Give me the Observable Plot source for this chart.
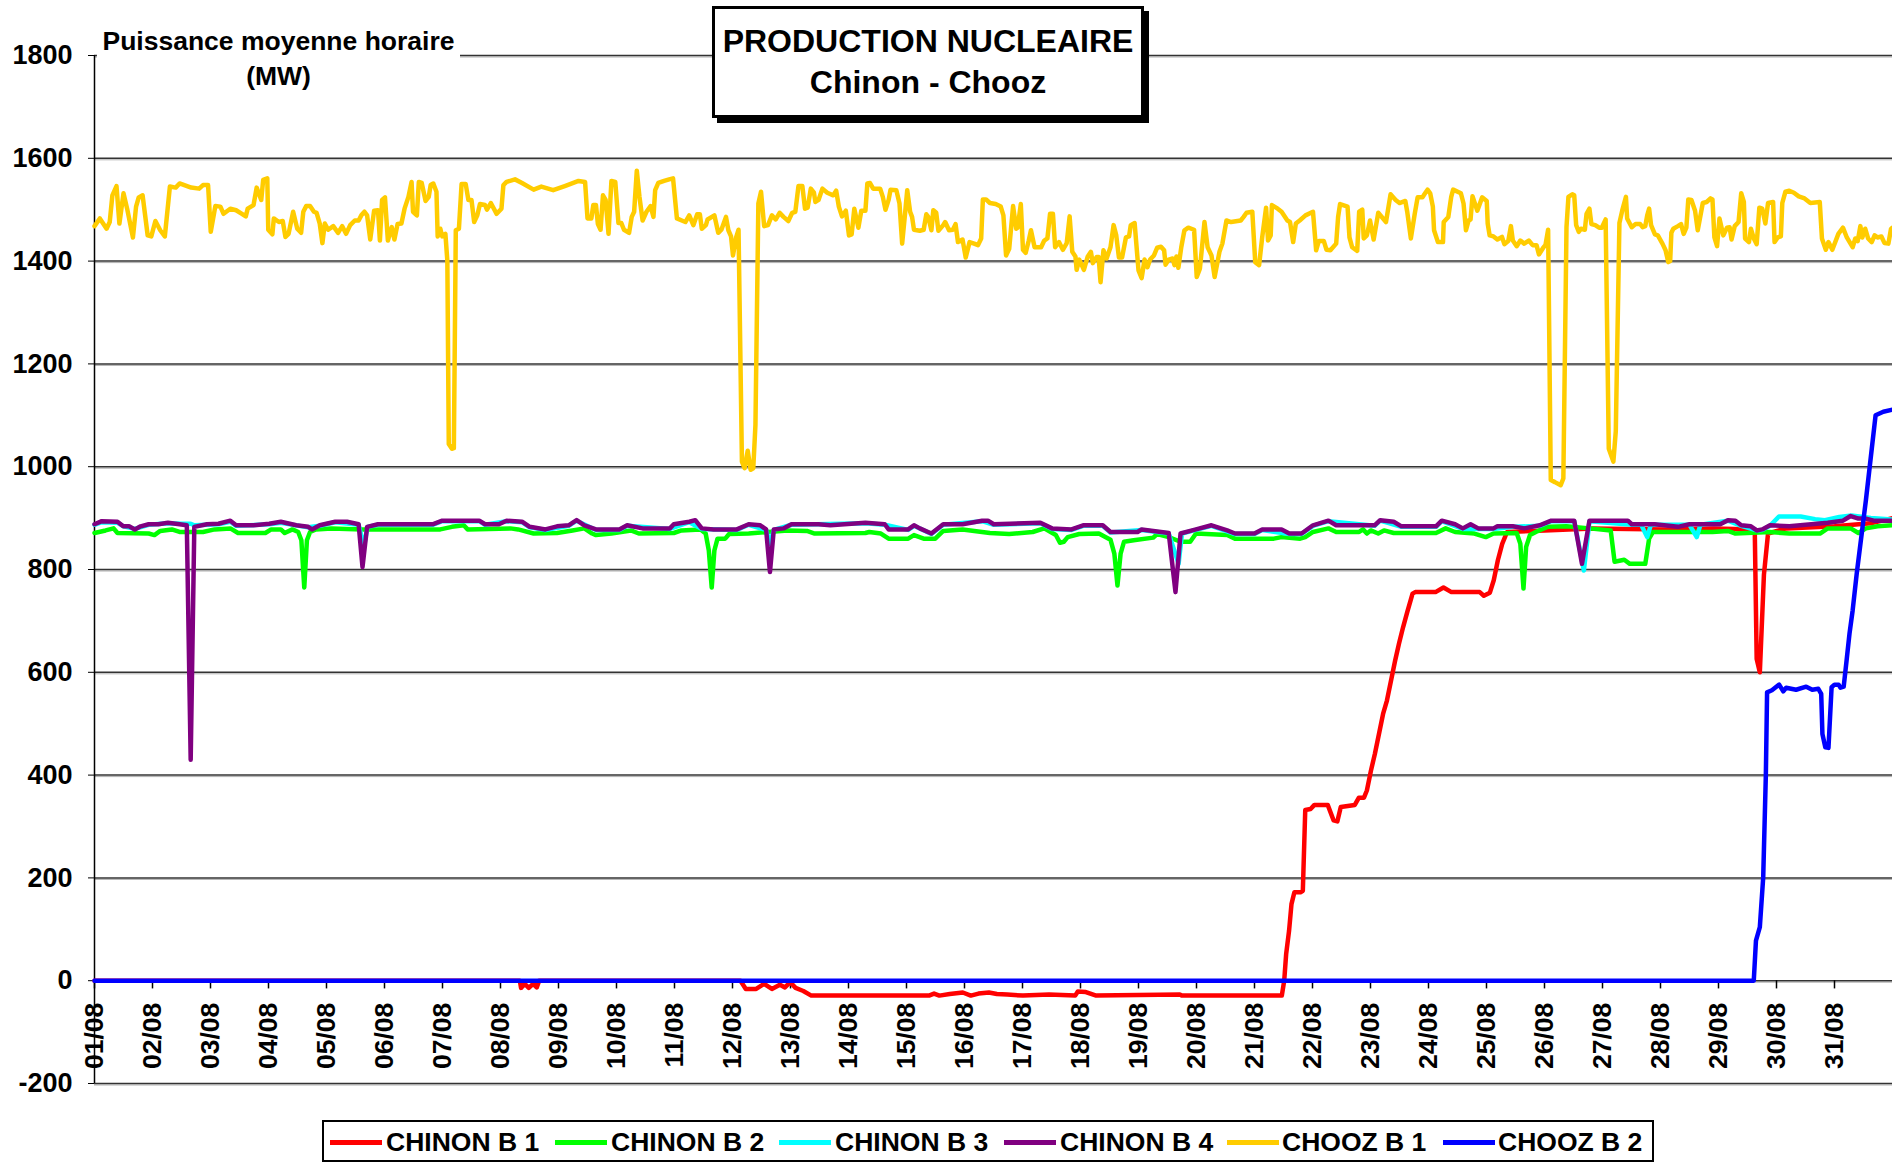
<!DOCTYPE html>
<html>
<head>
<meta charset="utf-8">
<script src="https://cdn.jsdelivr.net/npm/d3@7"></script>
<script src="https://cdn.jsdelivr.net/npm/@observablehq/plot@0.6"></script>
<style>
  html, body { margin: 0; padding: 0; background: #fff; }
  #wrap { position: relative; width: 1892px; height: 1162px; overflow: hidden; font-family: "Liberation Sans", Arial, sans-serif; font-weight: bold; color: #000; }
  #ylabel { position: absolute; left: 97px; top: 18px; width: 363px; height: 80px; background: #fff; text-align: center; font-size: 26.5px; line-height: 35px; padding-top: 6px; box-sizing: border-box; }
  #title { position: absolute; left: 712px; top: 6px; width: 432px; height: 112px; box-sizing: border-box; border: 3px solid #000; background: #fff; box-shadow: 5px 5px 0 #000; text-align: center; font-size: 32px; line-height: 41px; padding-top: 12px; white-space: nowrap; }
  #legend { position: absolute; left: 322px; top: 1120px; width: 1332px; height: 42px; box-sizing: border-box; border: 2px solid #000; background: #fff; }
  .sw { position: absolute; top: 18px; width: 52px; height: 5px; }
  .lt { position: absolute; top: 0; line-height: 40px; font-size: 26.5px; white-space: nowrap; }
</style>
</head>
<body>
<div id="wrap">
  <div id="chart"></div>
  <div id="ylabel">Puissance moyenne horaire<br>(MW)</div>
  <div id="title">PRODUCTION NUCLEAIRE<br>Chinon - Chooz</div>
  <div id="legend"></div>
</div>
<script>
// ---- DATA (hours since 01/08 00:00, MW) ----
const seriesNames = ["CHINON B 1", "CHINON B 2", "CHINON B 3", "CHINON B 4", "CHOOZ B 1", "CHOOZ B 2"];
const seriesColors = ["#FF0000", "#00FF00", "#00FFFF", "#800080", "#FFCC00", "#0000FF"];
const xTickHours = [0,24,48,72,96,120,144,168,192,216,240,264,288,312,336,360,384,408,432,456,480,504,528,552,576,600,624,648,672,696,720];
const xTickLabels = ["01/08","02/08","03/08","04/08","05/08","06/08","07/08","08/08","09/08","10/08","11/08","12/08","13/08","14/08","15/08","16/08","17/08","18/08","19/08","20/08","21/08","22/08","23/08","24/08","25/08","26/08","27/08","28/08","29/08","30/08","31/08"];
const yTicks = [-200,0,200,400,600,800,1000,1200,1400,1600,1800];

const chinonB1 = [[0,0],[176,0],[176.5,-14],[178,-6],[179.7,-14],[181.5,-6],[183,-13],[184,0],[267.3,0],[269.5,-16],[273.8,-16],[277.1,-6],[280.3,-16],[283.6,-8],[285.7,-13],[287.9,-3],[290.1,-14],[293.3,-20],[296.6,-29],[345.3,-29],[347.4,-25],[349.6,-29],[353.9,-26],[359.3,-23],[362.6,-29],[365.8,-25],[370.1,-23],[373.4,-26],[377.7,-27],[384.2,-29],[395,-27],[405.8,-29],[406.9,-21],[410.2,-22],[414.5,-29],[449.1,-27],[450,-29],[491.3,-29],[492.3,0],[493.1,52],[494.3,97],[495.3,149],[496.5,172],[499,172],[500,175],[501,332],[503.2,334],[504.8,342],[510.3,342],[512.7,312],[514.3,310],[515.7,338],[521.5,342],[523.2,356],[525.3,356],[526.5,370],[528.2,409],[529.8,441],[531.5,480],[533.2,519],[534.8,545],[536.5,584],[538.2,623],[539.8,656],[541.5,688],[543.2,717],[545.4,753],[546.5,756],[554.9,756],[558.2,765],[561.5,756],[573.2,756],[574.9,749],[577.4,755],[579,779],[580.7,818],[582.5,850],[584.5,873],[600,876],[620,880],[650,878],[670,880],[687,878],[687.8,626],[689.1,600],[690.8,790],[692.5,870],[700,880],[720,884],[735,890],[744,900]];

const chinonB2 = [[0,871],[4.6,876],[7.9,880],[9.5,871],[22.4,870],[24.8,867],[27.2,875],[32,878],[35.2,873],[44.9,873],[49.7,878],[56.2,880],[59.4,871],[70.7,871],[73.1,878],[77.1,878],[78.7,871],[81.9,878],[84.3,873],[85.6,857],[86.8,765],[87.9,857],[89.2,873],[91.6,878],[98,880],[110.9,878],[143.1,878],[147.9,883],[152.8,886],[154.4,878],[172.1,880],[175.3,878],[181.7,870],[191.4,871],[197.8,876],[202.7,880],[205.9,870],[207.5,867],[213.9,870],[222,876],[225.2,870],[239.7,871],[242.9,876],[250.6,878],[251.3,876],[252.9,870],[254.2,837],[255.4,765],[256.5,837],[257.8,860],[261,860],[262.6,869],[270.7,870],[286.8,876],[294.8,875],[298,870],[319,871],[320.6,873],[325.4,870],[328.6,860],[336.7,860],[339.1,867],[343.1,860],[347.9,860],[351.2,875],[359.2,878],[370.5,871],[378.5,869],[388.2,873],[393,880],[397.8,867],[399.5,852],[401.1,854],[402.7,863],[407.5,869],[415.6,870],[420.4,858],[422,831],[423.3,769],[424.6,831],[426,854],[430,857],[438.1,862],[439.7,869],[444.5,863],[449.4,854],[453.4,854],[455.8,870],[468.7,867],[471.9,860],[488,860],[491.2,863],[498.9,860],[501,863],[504.2,873],[510.6,880],[513.8,873],[523.3,873],[524.9,878],[526.5,870],[528.1,876],[531.2,870],[533.6,876],[537.6,871],[555.1,871],[559.1,880],[563,873],[571,870],[575.7,863],[578.9,870],[588.5,871],[590,850],[591.3,763],[592.4,844],[594,867],[596.4,873],[601.2,883],[609.1,884],[618.6,880],[627.4,876],[629,815],[633,819],[635.3,811],[641.7,811],[643.3,860],[644.9,873],[669.5,873],[675.9,875],[679,870],[693.3,873],[701.3,870],[714,870],[717.2,880],[726.7,880],[729.9,871],[733,880],[737.8,884],[744,886]];

const chinonB3 = [[0,887],[3,892],[9.5,891],[12,884],[16.7,879],[22.4,887],[30.4,890],[36,889],[39.8,889],[41.3,886],[51.3,888],[56.2,893],[58.6,885],[72.3,888],[77.1,891],[88.4,882],[93.2,885],[99.6,892],[109.3,887],[111.5,845],[113,883],[117.3,887],[139.9,887],[143.9,894],[159.2,894],[161.6,887],[170.5,894],[176.9,892],[180.1,882],[186.6,877],[196.2,885],[199.5,895],[207.5,877],[217.2,877],[220.4,885],[238.1,879],[246.1,892],[251.3,879],[265.8,877],[270.7,887],[277.9,877],[279.5,850],[281.1,877],[288.4,887],[319,890],[327,887],[336.7,877],[339.1,885],[346.3,869],[351.2,887],[367.3,894],[372.1,887],[391.4,890],[396.2,879],[404.3,877],[409.1,885],[417.2,885],[420.4,872],[433.3,877],[444.5,870],[448.6,811],[450,870],[455.8,877],[462.2,885],[471.9,869],[480,869],[483.2,877],[494.4,869],[499.5,869],[504.2,885],[510.6,894],[529.7,885],[532,895],[540.8,883],[555.1,883],[557.5,894],[566.2,879],[578.9,879],[586.9,883],[598,885],[602.8,894],[612.3,894],[616.3,798],[618.6,894],[636.1,887],[640,887],[642.5,863],[644,887],[660,887],[663,863],[664.5,887],[675.9,895],[681.4,885],[687.8,876],[690.1,877],[693.3,885],[697,903],[706,903],[712,898],[716,896],[722,902],[727,905],[735,900],[744,897]];

const chinonB4 = [[0,888],[3,894],[9.5,893],[11.9,884],[14.3,884],[16.7,878],[19.1,884],[22.4,888],[26.4,888],[30.4,891],[35.2,888],[38.2,886],[39.8,430],[41.3,883],[46.5,888],[51.3,889],[56.2,895],[58.6,886],[65.8,886],[72.3,889],[77.1,893],[83.5,886],[88.4,883],[90,878],[93.2,886],[99.6,893],[104.5,893],[109.3,888],[110.9,805],[112.8,883],[117.3,888],[139.9,888],[143.9,895],[159.2,895],[161.6,888],[167.3,888],[170.5,895],[176.9,893],[180.1,883],[186.6,878],[191.4,884],[196.2,886],[199.5,896],[202.7,886],[207.5,878],[217.2,878],[220.4,886],[226.8,880],[238.1,880],[239.7,888],[246.1,893],[248.6,896],[251.3,880],[256.2,878],[265.8,878],[270.7,888],[275.5,886],[277.9,878],[279.5,795],[281.1,878],[285.1,880],[288.4,888],[299.6,888],[304.5,886],[319,891],[327,888],[328.6,878],[336.7,878],[339.1,886],[341.5,880],[346.3,870],[351.2,888],[359.2,888],[367.3,895],[369.7,895],[372.1,888],[391.4,891],[396.2,880],[404.3,878],[409.1,886],[417.2,886],[420.4,873],[431.6,873],[433.3,878],[444.5,871],[447.3,756],[449.4,870],[455.8,878],[462.2,886],[468.7,876],[471.9,870],[480,870],[483.2,878],[491.2,878],[494.4,870],[499.5,870],[504.2,886],[510.6,895],[513.8,886],[529.7,886],[532,896],[537.6,893],[540.8,884],[555.1,884],[557.5,895],[563,888],[566.2,880],[569.4,888],[572.6,880],[578.9,880],[580.5,884],[586.9,884],[591.6,880],[598,886],[602.8,895],[612.3,895],[615.5,811],[618.6,895],[634.5,895],[636.1,888],[645.6,888],[655.2,883],[660,888],[672.7,888],[675.9,896],[679,895],[681.4,886],[685.4,884],[687.8,876],[690.1,878],[693.3,886],[701.3,884],[717.2,891],[723.5,895],[726.7,904],[729.9,899],[733,899],[736.2,895],[744,895]];

const choozB1 = [[0,1468],[2.2,1483],[5,1463],[6.3,1476],[7.4,1528],[9.1,1546],[10.3,1473],[12,1532],[13.5,1502],[15.9,1446],[17.2,1506],[18.3,1524],[19.9,1528],[22,1450],[23.5,1448],[25.2,1478],[27.2,1460],[29.1,1448],[31.2,1545],[33.6,1543],[35.2,1551],[40,1543],[43.3,1541],[44.9,1548],[47,1548],[48.1,1457],[50,1507],[52.1,1506],[53.4,1492],[56.2,1502],[58.6,1499],[61,1492],[62.6,1487],[63.4,1502],[65.8,1509],[67.1,1543],[69,1519],[69.8,1558],[71.5,1561],[71.9,1461],[73.6,1452],[74.2,1483],[76.3,1476],[77.9,1478],[79,1447],[80.3,1453],[82.2,1496],[83.9,1463],[85.5,1455],[86.4,1496],[87.6,1507],[89.2,1507],[90.8,1496],[91.9,1494],[93.2,1473],[94.3,1435],[95.3,1473],[96.7,1461],[98.8,1468],[100.8,1455],[102.5,1468],[104.1,1453],[105.8,1470],[107.7,1479],[109.3,1479],[110.4,1489],[111.7,1496],[112.8,1489],[114.1,1442],[115.7,1498],[117.3,1499],[118.1,1440],[119,1519],[120.2,1524],[121.4,1440],[123,1466],[124.1,1442],[125.4,1472],[127,1473],[128.3,1502],[129.9,1525],[131.2,1554],[131.8,1496],[133.4,1489],[134.2,1554],[135.4,1552],[137,1517],[138.3,1525],[139.1,1548],[140.2,1551],[141.5,1535],[142,1448],[143.1,1463],[143.9,1448],[145.2,1453],[146,1401],[146.6,1044],[147.9,1035],[148.7,1036],[149.5,1460],[150.8,1463],[151.9,1550],[153.6,1550],[154.7,1519],[156,1519],[157.1,1476],[158.4,1489],[159.5,1511],[161.6,1509],[162.4,1500],[164,1513],[166.4,1492],[168.4,1502],[169.2,1548],[170.5,1554],[174,1559],[176.9,1552],[181.7,1539],[184.9,1545],[189.8,1538],[194.6,1546],[200.3,1556],[203,1554],[204,1483],[205.6,1483],[206.4,1509],[207.5,1509],[208.3,1472],[209.4,1461],[210.4,1528],[211.5,1519],[212.7,1453],[213.9,1556],[215.5,1554],[216.8,1474],[218,1474],[219.1,1461],[221.2,1455],[222.3,1486],[223.3,1496],[224.4,1576],[225.5,1525],[226.8,1479],[228.4,1496],[230.1,1507],[231.3,1486],[232,1538],[233.3,1552],[235.7,1556],[237.8,1559],[239.4,1561],[241,1483],[243,1479],[244.5,1476],[246.1,1489],[247.8,1470],[249.4,1491],[250.5,1491],[251.3,1463],[253,1470],[253.7,1481],[256.5,1489],[258.1,1455],[259.4,1461],[261.3,1486],[262.3,1460],[263.4,1448],[264.2,1411],[265.5,1446],[266.5,1461],[267.9,1010],[269,997],[270.3,1031],[271.5,994],[272.6,997],[273.5,1082],[274.7,1512],[275.8,1535],[277.1,1468],[278.7,1470],[280.3,1489],[281.9,1481],[283.5,1494],[285.1,1486],[287.1,1478],[288.7,1494],[290,1496],[291.3,1546],[292.9,1546],[294,1502],[295.1,1504],[296.4,1541],[297.7,1533],[298.3,1515],[299.6,1519],[301.2,1541],[303.2,1533],[305.7,1528],[306.9,1537],[308,1506],[309.3,1487],[310.9,1498],[312.2,1450],[313.3,1452],[314.4,1502],[316.1,1465],[317.3,1498],[319,1498],[319.8,1551],[320.9,1552],[322.2,1541],[325.1,1541],[326.2,1525],[327.3,1500],[328.6,1519],[329.4,1539],[331.8,1538],[333.1,1512],[334.2,1434],[335.4,1492],[336.3,1538],[337.5,1496],[338.3,1486],[339.1,1461],[341.5,1459],[343.1,1461],[344.2,1491],[345,1486],[346.3,1460],[347.1,1499],[348.3,1494],[349.2,1459],[351.2,1470],[352,1476],[353.6,1460],[355.2,1461],[356.3,1472],[357.3,1437],[359.2,1442],[360.5,1407],[362.1,1437],[364,1434],[365.6,1431],[366.9,1444],[367.6,1520],[368.9,1520],[370.5,1513],[372.9,1511],[375,1506],[376.1,1489],[377.2,1411],[378.5,1424],[380.1,1507],[381.4,1463],[382,1465],[383.3,1511],[384.2,1422],[385.3,1416],[386.6,1440],[387.5,1460],[389,1427],[391.7,1427],[393,1440],[394.3,1444],[395.4,1492],[396.6,1492],[397.5,1427],[399.1,1437],[400.7,1422],[402.3,1435],[403.5,1487],[404.6,1418],[405.9,1409],[406.4,1383],[407.5,1403],[409.4,1383],[411,1409],[412.3,1418],[413.1,1396],[414.7,1408],[415.5,1408],[416.3,1359],[417.5,1421],[418.8,1405],[420.4,1427],[421.7,1470],[422.8,1450],[423.9,1407],[425.2,1407],[426.8,1446],[428.1,1448],[428.8,1470],[430.4,1474],[432,1382],[433.3,1367],[434.5,1403],[435.7,1388],[436.8,1403],[438.4,1411],[439.7,1426],[441.3,1428],[442.6,1421],[443.2,1393],[444.5,1403],[446.1,1405],[446.9,1392],[447.7,1409],[448.5,1387],[449.7,1427],[451,1460],[452.6,1465],[455,1461],[456.1,1369],[457.4,1385],[459.3,1476],[460.6,1427],[462.2,1411],[463.5,1369],[465.5,1418],[466.7,1434],[468.4,1479],[470.3,1476],[474.3,1479],[475.5,1486],[476.7,1494],[479.1,1496],[480.3,1398],[481.9,1392],[483.2,1447],[484.8,1504],[485.6,1440],[486.7,1450],[487.2,1509],[489.6,1502],[491.2,1496],[493.6,1479],[494.7,1476],[496,1437],[497.1,1473],[498.7,1479],[501.1,1489],[504.2,1496],[505.5,1421],[506.6,1439],[508.7,1439],[509.8,1422],[511.4,1421],[513.8,1434],[514.6,1486],[515.4,1511],[518.5,1506],[519.3,1446],[520.4,1427],[522.5,1420],[523.3,1496],[524.6,1500],[525.2,1444],[526.5,1450],[527.8,1479],[529.3,1442],[531.2,1494],[534.4,1476],[536.3,1530],[538.4,1519],[540,1513],[542.4,1517],[543.2,1496],[544.7,1444],[546.3,1492],[547.5,1524],[549.5,1524],[550.3,1530],[551.6,1539],[552.7,1532],[553.8,1506],[554.3,1460],[555.9,1437],[558,1437],[558.3,1476],[560.2,1486],[561.4,1525],[562.2,1539],[565.4,1532],[566.5,1512],[567.5,1460],[568.6,1479],[569.4,1481],[570.2,1526],[572.2,1498],[574.2,1524],[576.1,1517],[576.5,1473],[577.3,1450],[578.9,1448],[580.5,1442],[582.4,1447],[583.4,1433],[585,1439],[586.1,1468],[586.9,1440],[588.5,1429],[590,1440],[591.6,1434],[593.5,1440],[595.1,1431],[596.7,1431],[597.7,1413],[599.6,1427],[600.4,1431],[601.5,1461],[602.6,974],[604.3,970],[606.7,964],[607.8,977],[609.1,1466],[609.9,1525],[611.5,1530],[612.3,1528],[613.1,1470],[614.2,1457],[615.1,1463],[616.7,1461],[617.4,1492],[618.6,1502],[619.4,1472],[621,1470],[622.6,1465],[623.7,1465],[625.3,1481],[626.6,1035],[628.5,1010],[629.5,1069],[631,1474],[632.2,1499],[633.7,1525],[634.2,1483],[636.1,1466],[637.7,1472],[639.6,1472],[640.6,1466],[641.7,1468],[642.5,1489],[643.3,1502],[644.1,1470],[645.7,1452],[646.9,1450],[648.8,1434],[650.1,1421],[651.2,1398],[652,1400],[652.5,1455],[653.3,1463],[655.2,1468],[656.5,1472],[657.6,1453],[658.7,1465],[659.5,1520],[660.8,1519],[662.3,1498],[663.4,1460],[665.5,1513],[667.1,1515],[668.7,1522],[669.5,1520],[670.3,1446],[671.4,1429],[672.4,1483],[674,1450],[675.5,1465],[676.6,1466],[677.4,1442],[678.7,1468],[680.3,1476],[681.4,1532],[682.5,1515],[683,1444],[684.6,1437],[685.4,1463],[686.6,1444],[687.8,1433],[688.9,1504],[690.1,1502],[691.4,1473],[692.5,1513],[694.6,1515],[695.2,1437],[696.5,1446],[697.8,1448],[698.4,1513],[699.7,1535],[701.3,1537],[703.2,1533],[705.2,1526],[707.6,1522],[710,1513],[713.9,1515],[714.8,1444],[716.4,1422],[717.5,1437],[719.1,1422],[721.6,1453],[723.5,1465],[725.1,1446],[727.5,1427],[728.6,1444],[729.6,1439],[730.7,1468],[731.5,1446],[732.7,1463],[733.9,1444],[735.4,1437],[736.6,1450],[737.8,1446],[739.4,1448],[740.7,1435],[742.3,1434],[743.4,1463],[744,1465]];

const choozB2 = [[0,0],[686.6,0],[687.5,78],[689.1,104],[690.5,201],[691.6,402],[692.1,561],[694.1,565],[697.1,576],[698.8,563],[700,570],[704.1,566],[708.3,572],[710.8,566],[713.3,568],[714.5,558],[715,480],[716.2,454],[717.5,453],[718.8,571],[720,576],[721.7,576],[722.5,570],[723.8,572],[725,623],[726.2,675],[727.5,720],[729.2,792],[733,935],[737,1100],[740.2,1107],[744,1111]];

const seriesData = [chinonB1, chinonB2, chinonB3, chinonB4, choozB1, choozB2];

// ---- CHART ----
const lineMarks = seriesData.map((data, i) =>
  Plot.line(data, {x: d => d[0], y: d => d[1], stroke: seriesColors[i], strokeWidth: 4.5, strokeLinejoin: "round", strokeLinecap: "round"})
);

const chart = Plot.plot({
  width: 1892,
  height: 1162,
  marginLeft: 94,
  marginRight: 0,
  marginTop: 55,
  marginBottom: 79,
  style: {fontFamily: "'Liberation Sans', Arial, sans-serif", fontWeight: "bold", fontSize: "27px", color: "#000", background: "#fff", overflow: "visible"},
  x: {domain: [0, 744], axis: null},
  y: {domain: [-200, 1800], ticks: yTicks, tickFormat: d => String(d), tickSize: 6, tickPadding: 16, label: null},
  marks: [
    Plot.ruleY(yTicks, {stroke: "#b0b0b0", strokeWidth: 1, dy: 1.5}),
    Plot.ruleY(yTicks, {stroke: "#333", strokeWidth: 1.5}),
    Plot.ruleX([0], {stroke: "#000", strokeWidth: 1.5}),
    Plot.ruleX(xTickHours, {x: d => d, y1: 0, y2: -16, stroke: "#000", strokeWidth: 1.5}),
    Plot.text(xTickHours, {x: d => d, y: 0, text: (d, i) => xTickLabels[i], rotate: -90, textAnchor: "end", dy: 22, fontSize: 26.5, fontWeight: "bold", fill: "#000"}),
    ...lineMarks
  ]
});
document.getElementById("chart").appendChild(chart);

// ---- LEGEND ----
const legend = document.getElementById("legend");
const swatchLeft = [6, 231, 455, 680, 903, 1119];
const textLeft = [62, 287, 511, 736, 958, 1174];
seriesNames.forEach((name, i) => {
  const sw = document.createElement("div");
  sw.className = "sw";
  sw.style.left = swatchLeft[i] + "px";
  sw.style.background = seriesColors[i];
  legend.appendChild(sw);
  const t = document.createElement("div");
  t.className = "lt";
  t.style.left = textLeft[i] + "px";
  t.textContent = name;
  legend.appendChild(t);
});
</script>
</body>
</html>
